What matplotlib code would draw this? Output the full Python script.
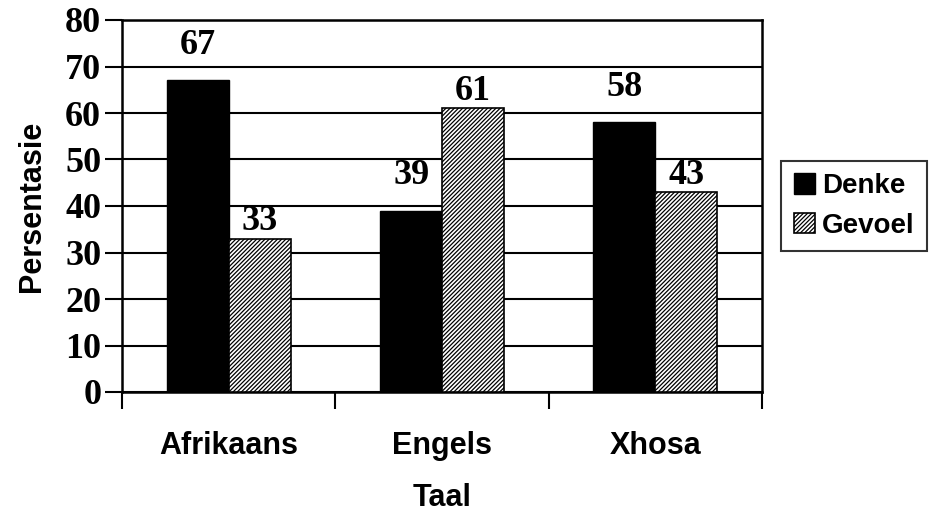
import matplotlib
matplotlib.use('Agg')
import matplotlib.pyplot as plt
import numpy as np

categories = ["Afrikaans", "Engels", "Xhosa"]
denke = [67, 39, 58]
gevoel = [33, 61, 43]
yticks = [0, 10, 20, 30, 40, 50, 60, 70, 80]

plt.rcParams['hatch.linewidth'] = 0.9
serif = ['Liberation Serif', 'DejaVu Serif']
sans = ['Liberation Sans', 'DejaVu Sans']

fig = plt.figure(figsize=(9.31, 5.18), dpi=100)
ax = fig.add_axes([122/931, 1 - 392/518, 640/931, 372/518])

x = np.arange(len(categories))
w = 0.29
b1 = ax.bar(x - w/2, denke, w, color='black', edgecolor='black', label='Denke', zorder=3)
b2 = ax.bar(x + w/2, gevoel, w, color='white', edgecolor='black', hatch='////////',
            linewidth=1.2, label='Gevoel', zorder=3)

for rect, v in zip(b1, denke):
    ax.annotate(str(v), (rect.get_x() + rect.get_width()/2, v), xytext=(0, 35),
                textcoords='offset pixels', ha='center', va='center',
                fontsize=26, fontweight='bold', family=serif, zorder=4)
for rect, v in zip(b2, gevoel):
    ax.annotate(str(v), (rect.get_x() + rect.get_width()/2, v), xytext=(0, 17),
                textcoords='offset pixels', ha='center', va='center',
                fontsize=26, fontweight='bold', family=serif, zorder=4)

ax.set_xlim(-0.5, 2.5)
ax.set_ylim(0, 80)
ax.set_yticks(yticks)
ax.set_yticklabels([str(t) for t in yticks], fontsize=26, fontweight='bold', family=serif)
ax.set_xticks(x)
ax.set_xticklabels(categories, fontsize=22, fontweight='bold', family=sans)
ax.set_xticks([-0.5, 0.5, 1.5, 2.5], minor=True)
ax.tick_params(axis='x', which='major', length=0, pad=28)
ax.tick_params(axis='x', which='minor', length=12, width=1.5, direction='out')
ax.tick_params(axis='y', length=12, width=1.5, direction='out', pad=3)

ax.yaxis.grid(True, color='black', linewidth=1.5, zorder=0)
ax.set_axisbelow(True)
for s in ax.spines.values():
    s.set_linewidth(1.8)

ax.set_ylabel("Persentasie", fontsize=22, fontweight='bold', family=sans, labelpad=13)
ax.set_xlabel("Taal", fontsize=22, fontweight='bold', family=sans, labelpad=16)

leg = ax.legend(loc='center left', bbox_to_anchor=(1.0, 0.50), prop={'family': sans, 'size': 20, 'weight': 'bold'},
                frameon=True, fancybox=False, edgecolor='black', handlelength=0.75, handleheight=0.75,
                handletextpad=0.25, borderpad=0.45, labelspacing=0.5, borderaxespad=0.7)
leg.get_frame().set_linewidth(1.5)

fig.savefig("out.png", dpi=100)
